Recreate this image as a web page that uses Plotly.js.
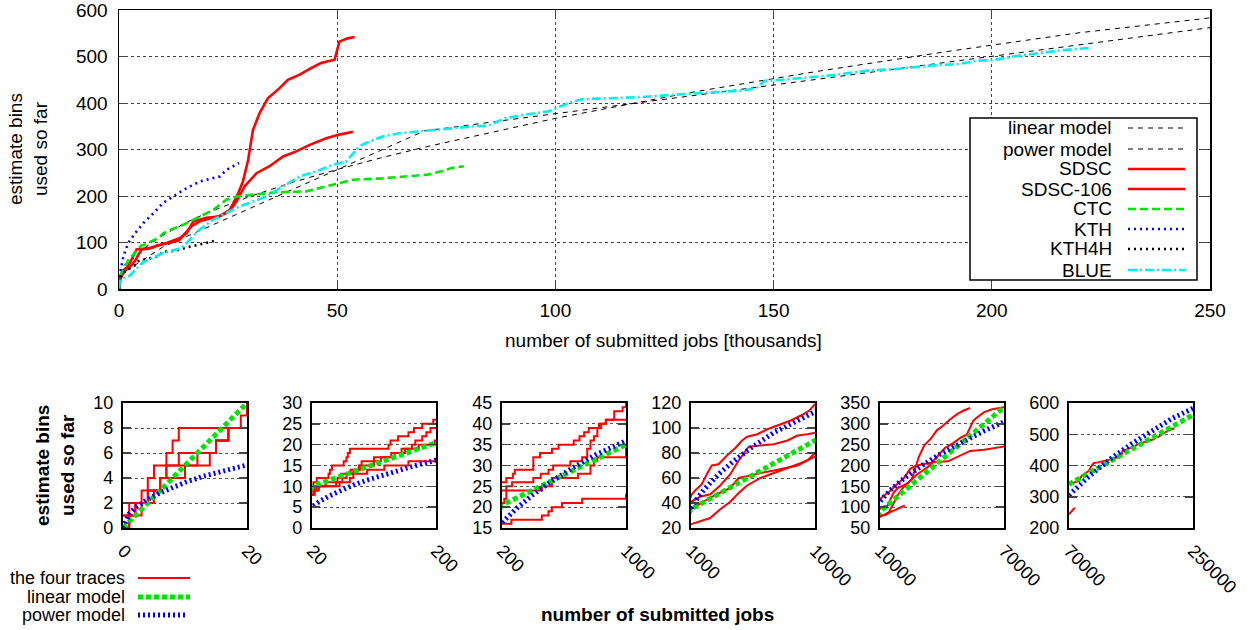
<!DOCTYPE html>
<html>
<head>
<meta charset="utf-8">
<script src="https://cdn.plot.ly/plotly-3.0.1.min.js"></script>
<style>
  html, body { margin: 0; padding: 0; background: #fff; }
  #chart { width: 1250px; height: 630px; }
</style>
</head>
<body>
<div id="chart"></div>
<script>
// ---------- model curves: number of jobs -> estimated bins ----------
const linearJobs = [0, 20, 200, 1000, 10000, 70000, 250000];
const linearBins = [0, 10, 20.5, 35, 90, 340, 562];

const powerJobs = [0, 1, 2, 4, 6, 8, 10, 13, 16, 20, 30, 45, 60, 80, 100, 130, 160, 200, 300, 400, 500, 650, 800,
  1000, 1500, 2000, 3000, 4000, 5500, 7000, 8500, 10000, 15000, 20000, 30000, 40000, 50000, 60000, 70000,
  100000, 130000, 160000, 190000, 220000, 250000];
const powerBins = [0, 1.15, 1.63, 2.3, 2.82, 3.25, 3.64, 4.15, 4.6, 5.14, 6.3, 7.7, 8.9, 10.3, 11.5, 13.1, 14.5, 16.3, 19.9, 23, 25.7, 29.3, 32.5,
  36.4, 44.5, 51.4, 63, 72.7, 85.3, 96.2, 106, 115, 141, 163, 199, 230, 257, 282, 305,
  367, 421, 468, 511, 551, 583];

// ---------- workload traces (jobs, bins used so far) ----------
const sdscJobs = [0, 400, 1000, 2500, 4000, 5000, 7000, 10900, 14000, 15500, 17000, 20000, 23000, 25400, 27000, 28400,
  29600, 30700, 32200, 34100, 36800, 38700, 41400, 44000, 46300, 49400, 50500, 52400, 54000];
const sdscBins = [0, 25, 34, 56, 85, 86, 88, 99, 110, 120, 145, 153, 156, 170, 199, 231,
  278, 342, 378, 410, 432, 450, 461, 475, 486, 493, 532, 539, 542];

const sdsc106Jobs = [0, 1, 3, 4, 5, 7, 8, 9,
  22, 27, 60, 64, 70, 76, 88, 92, 110, 140, 155, 165, 170, 180, 186, 192,
  228, 265, 402, 450, 500, 530, 641, 717, 750, 771, 793, 815, 840, 870,
  1000, 1660, 2390, 3120, 3850, 4460, 5190, 6040, 7020, 8000, 8730, 9460, 10000,
  13700, 16600, 18600, 21600, 23400, 25400, 27000, 28800, 31500, 34500, 37600, 40600, 43700, 47500, 50500, 53600];
const sdsc106Bins = [1, 2, 3, 4, 5, 6, 7, 8,
  9, 10, 11, 12, 13, 14, 15, 16, 17, 18, 19, 20, 21, 22, 23, 24,
  25, 26, 27, 28, 29, 30, 31, 32, 34, 36, 37, 39, 40, 41,
  41, 45, 47, 54, 63, 74, 85, 86, 87, 90, 94, 95, 96,
  104, 135, 146, 153, 158, 167, 190, 221, 249, 264, 285, 296, 310, 324, 332, 338];

const ctcJobs = [0, 1, 2, 4, 6, 7, 9, 15, 17, 19, 20,
  22, 27, 44, 46, 49, 66, 70, 72, 75, 131, 134, 145, 160, 168, 180, 196,
  228, 270, 283, 402, 445, 522, 565, 663, 700, 730, 760, 826, 870, 924, 978,
  1000, 1293, 1780, 2146, 2512, 3000, 3610, 4220, 4707, 5073, 5805, 6537, 7512, 8244, 8976, 9585, 10000,
  11700, 14700, 18500, 21600, 24600, 27000, 30700, 36000, 42900, 46000, 49000, 53600, 60400, 66500, 70800, 73900, 76200, 79000];
const ctcBins = [0, 1, 2, 3, 4, 5, 6, 7, 8, 9, 10,
  11, 12, 13, 14, 15, 16, 17, 18, 19, 20, 21, 22, 23, 24, 25, 26,
  27, 28, 29, 32, 33, 34, 35, 36, 37, 38, 39, 40, 41, 43, 44,
  46, 50, 55, 63, 70, 71, 78, 84, 90, 93, 95, 99, 103, 106, 110, 114, 119,
  127, 138, 156, 170, 192, 199, 203, 208, 210, 217, 224, 235, 238, 242, 246, 253, 260, 264];

const kthJobs = [0, 400, 1000, 2100, 3700, 5600, 7900, 10100, 12400, 15500, 18500, 21600, 23100, 24600, 26900, 27500];
const kthBins = [0, 42, 70, 99, 120, 142, 163, 185, 199, 217, 231, 239, 242, 256, 269, 271];

const kth4hJobs = [0, 1, 3, 5, 6, 7, 12, 15, 17,
  24, 40, 57, 62, 80, 90, 110, 120, 135, 150, 175, 198,
  215, 228, 457, 522, 690, 771, 793, 815,
  1000, 1900, 2880, 3850, 4460, 5320, 6040, 7020, 7990, 8730, 9460, 10000,
  12900, 15300, 17800, 21500, 22000];
const kth4hBins = [0, 1, 2, 3, 4, 5, 6, 7, 8,
  10, 11, 12, 13, 14, 15, 16, 17, 18, 19, 20, 21,
  22, 24, 25, 27, 28, 30, 31, 32,
  35, 41, 47, 52, 60, 62, 64, 66, 68, 70, 74, 80,
  82, 89, 94, 102, 104];

const blueJobs = [0, 2, 4, 6, 10, 14, 15, 17,
  23, 30, 55, 75, 80, 100, 125, 160,
  261, 457, 500, 522, 587, 717,
  1000, 1660, 2390, 3120, 3850, 4460, 5070, 6040, 7020, 8000, 9000, 10000,
  11700, 14300, 16200, 18500, 21600, 24600, 27700, 30700, 33800, 37600, 41400, 45200, 49000, 52000, 55100,
  56600, 60400, 64300, 68800, 75400, 81500, 84600, 88400, 93000, 98400, 103000, 106000, 112000, 120000, 127600,
  135000, 143000, 146000, 148000, 152000, 158000, 163700, 171000, 179000, 186600, 192700, 196600, 200000, 205700,
  209500, 215600, 222900];
const blueBins = [1, 2, 3, 4, 5, 6, 7, 8,
  9, 10, 11, 12, 13, 14, 15, 16,
  17, 18, 19, 20, 21, 22,
  23, 25, 28, 35, 41, 48, 54, 60, 64, 68, 72, 77,
  81, 88, 106, 128, 149, 163, 178, 188, 199, 221, 242, 253, 267, 274, 307,
  314, 328, 335, 339, 344, 350, 351, 367, 375, 382, 400, 408, 410, 413, 418,
  423, 427, 432, 448, 450, 455, 460, 469, 474, 481, 484, 491, 492, 501,
  506, 513, 519];

// ---------- small panels: job ranges and bin ranges ----------
const panelJobRanges = [[0, 20], [20, 200], [200, 1000], [1000, 10000], [10000, 70000], [70000, 250000]];
const panelBinRanges = [[0, 10], [0, 30], [15, 45], [20, 120], [50, 350], [200, 600]];
const panelBinSteps = [2, 5, 5, 20, 50, 100];

// ---------- styling ----------
const FONT = '"Liberation Sans", Arial, Helvetica, sans-serif';
const RED = '#ff0000', GREEN = '#00e400', BLUE_C = '#0000ff', CYAN = '#00f0f0';
const W = 1250, H = 630;
const px = x => x / W;
const py = y => 1 - y / H;

const toK = a => a.map(v => v / 1000);

const traces = [];

// main panel
const mainSeries = [
  { x: linearJobs, y: linearBins, color: '#000', width: 1, dash: '5px,5px' },
  { x: powerJobs, y: powerBins, color: '#000', width: 1, dash: '5px,5px' },
  { x: sdscJobs, y: sdscBins, color: RED, width: 2.6, dash: 'solid' },
  { x: sdsc106Jobs, y: sdsc106Bins, color: RED, width: 2.6, dash: 'solid' },
  { x: ctcJobs, y: ctcBins, color: GREEN, width: 2.6, dash: '8px,4px' },
  { x: kthJobs, y: kthBins, color: BLUE_C, width: 2.6, dash: '2px,4px' },
  { x: kth4hJobs, y: kth4hBins, color: '#000', width: 2.6, dash: '2px,4px' },
  { x: blueJobs, y: blueBins, color: CYAN, width: 2.6, dash: '9px,3px,2px,3px' }
];
mainSeries.forEach(s => traces.push({
  type: 'scatter', mode: 'lines', x: toK(s.x), y: s.y, xaxis: 'x', yaxis: 'y',
  line: { color: s.color, width: s.width, dash: s.dash }, hoverinfo: 'skip', showlegend: false
}));

// picks the points of a series that fall in a range, plus one neighbour on each side
function pick(xs, ys, lo, hi) {
  const ox = [], oy = [];
  for (let i = 0; i < xs.length; i++) {
    const inside = xs[i] >= lo && xs[i] <= hi;
    const before = xs[i] < lo && i + 1 < xs.length && xs[i + 1] >= lo;
    const after = xs[i] > hi && i > 0 && xs[i - 1] <= hi;
    if (inside || before || after) { ox.push(xs[i]); oy.push(ys[i]); }
  }
  return { x: ox, y: oy };
}

const fourTraces = [
  [sdsc106Jobs, sdsc106Bins], [ctcJobs, ctcBins], [kth4hJobs, kth4hBins], [blueJobs, blueBins]
];

panelJobRanges.forEach((r, i) => {
  const xa = 'x' + (i + 2), ya = 'y' + (i + 2);
  const shape = i < 3 ? 'hv' : 'linear';
  fourTraces.forEach(([xs, ys]) => {
    const p = pick(xs, ys, r[0], r[1]);
    traces.push({ type: 'scatter', mode: 'lines', x: p.x, y: p.y, xaxis: xa, yaxis: ya,
      line: { color: RED, width: 2, shape: shape }, hoverinfo: 'skip', showlegend: false });
  });
  const lp = pick(linearJobs, linearBins, r[0], r[1]);
  traces.push({ type: 'scatter', mode: 'lines', x: lp.x, y: lp.y, xaxis: xa, yaxis: ya,
    line: { color: GREEN, width: 5, dash: '5px,3px' }, hoverinfo: 'skip', showlegend: false });
  const pp = pick(powerJobs, powerBins, r[0], r[1]);
  traces.push({ type: 'scatter', mode: 'lines', x: pp.x, y: pp.y, xaxis: xa, yaxis: ya,
    line: { color: BLUE_C, width: 5, dash: '2px,3px' }, hoverinfo: 'skip', showlegend: false });
});

// ---------- layout ----------
const layout = {
  width: W, height: H,
  margin: { l: 0, r: 0, t: 0, b: 0 },
  paper_bgcolor: '#fff', plot_bgcolor: '#fff',
  font: { family: FONT, color: '#000', size: 18 },
  showlegend: false,
  xaxis: {
    domain: [px(119), px(1210)], anchor: 'y', range: [0, 250], tickvals: [0, 50, 100, 150, 200, 250],
    ticks: 'inside', ticklen: 8, tickwidth: 1, showline: true, mirror: 'ticks', linewidth: 1.5, linecolor: '#000',
    showgrid: true, gridcolor: '#444', griddash: 'dot', gridwidth: 1, zeroline: false,
    tickfont: { size: 19 }, ticklabelstandoff: 4, ticklabeloverflow: 'allow'
  },
  yaxis: {
    domain: [py(289), py(10)], anchor: 'x', range: [0, 600], tickvals: [0, 100, 200, 300, 400, 500, 600],
    ticks: 'inside', ticklen: 8, tickwidth: 1, showline: true, mirror: 'ticks', linewidth: 1.5, linecolor: '#000',
    showgrid: true, gridcolor: '#444', griddash: 'dot', gridwidth: 1, zeroline: false,
    tickfont: { size: 19 }, ticklabelstandoff: 6, ticklabeloverflow: 'allow'
  },
  shapes: [],
  annotations: []
};

const panelLefts = [123, 312, 502, 691, 880, 1069];
panelJobRanges.forEach((r, i) => {
  const n = i + 2;
  const tv = [];
  for (let v = panelBinRanges[i][0]; v <= panelBinRanges[i][1]; v += panelBinSteps[i]) tv.push(v);
  layout['xaxis' + n] = {
    domain: [px(panelLefts[i]), px(panelLefts[i] + 124)], anchor: 'y' + n, range: r, tickvals: r,
    ticktext: r.map(String), tickangle: 45, ticks: '', showline: true, mirror: true, linewidth: 2.2,
    linecolor: '#000', showgrid: false, zeroline: false, tickfont: { size: 18 }, ticklabelstandoff: 3,
    ticklabeloverflow: 'allow'
  };
  layout['yaxis' + n] = {
    domain: [py(528), py(403)], anchor: 'x' + n, range: panelBinRanges[i], tickvals: tv,
    ticks: 'inside', ticklen: 8, tickwidth: 1.5, showline: true, mirror: 'ticks', linewidth: 2.2,
    linecolor: '#000', showgrid: true, gridcolor: '#555', griddash: 'dot', gridwidth: 1, zeroline: false,
    tickfont: { size: 18 }, ticklabelstandoff: 4, ticklabeloverflow: 'allow'
  };
});

// axis titles
layout.annotations.push(
  { xref: 'paper', yref: 'paper', x: px(28), y: py(149), text: 'estimate bins<br>used so far', textangle: -90,
    showarrow: false, font: { size: 19 }, xanchor: 'center', yanchor: 'middle' },
  { xref: 'paper', yref: 'paper', x: px(663), y: py(340), text: 'number of submitted jobs [thousands]',
    showarrow: false, font: { size: 19 }, xanchor: 'center', yanchor: 'middle' },
  { xref: 'paper', yref: 'paper', x: px(55), y: py(466), text: '<b>estimate bins<br>used so far</b>', textangle: -90,
    showarrow: false, font: { size: 19 }, xanchor: 'center', yanchor: 'middle' },
  { xref: 'paper', yref: 'paper', x: px(657), y: py(614), text: '<b>number of submitted jobs</b>',
    showarrow: false, font: { size: 19 }, xanchor: 'center', yanchor: 'middle' }
);

// key of the main panel
layout.shapes.push({ type: 'rect', xref: 'paper', yref: 'paper', x0: px(970), x1: px(1197), y0: py(280), y1: py(118),
  line: { color: '#000', width: 1.5 }, fillcolor: '#fff', layer: 'above' });
const mainKey = [
  ['linear model', '#000', 1, '5px,5px'],
  ['power model', '#000', 1, '5px,5px'],
  ['SDSC', RED, 2.6, 'solid'],
  ['SDSC-106', RED, 2.6, 'solid'],
  ['CTC', GREEN, 2.6, '8px,4px'],
  ['KTH', BLUE_C, 2.6, '2px,4px'],
  ['KTH4H', '#000', 2.6, '2px,4px'],
  ['BLUE', CYAN, 2.6, '9px,3px,2px,3px']
];
const keyRows = [128, 149, 169, 189, 209, 229, 249, 270];
mainKey.forEach((k, i) => {
  layout.annotations.push({ xref: 'paper', yref: 'paper', x: px(1114), y: py(keyRows[i]), text: k[0],
    showarrow: false, xanchor: 'right', yanchor: 'middle', font: { size: 19 } });
  layout.shapes.push({ type: 'line', xref: 'paper', yref: 'paper', x0: px(1128), x1: px(1185),
    y0: py(keyRows[i]), y1: py(keyRows[i]), line: { color: k[1], width: k[2], dash: k[3] }, layer: 'above' });
});

// key of the small panels
const smallKey = [
  ['the four traces', RED, 2, 'solid', 190],
  ['linear model', GREEN, 5, '5px,3px', 190],
  ['power model', BLUE_C, 5, '2px,3px', 187]
];
const smallRows = [578, 597, 615];
smallKey.forEach((k, i) => {
  layout.annotations.push({ xref: 'paper', yref: 'paper', x: px(127), y: py(smallRows[i]), text: k[0],
    showarrow: false, xanchor: 'right', yanchor: 'middle', font: { size: 18 } });
  layout.shapes.push({ type: 'line', xref: 'paper', yref: 'paper', x0: px(138), x1: px(k[4]),
    y0: py(smallRows[i]), y1: py(smallRows[i]), line: { color: k[1], width: k[2], dash: k[3] } });
});

Plotly.newPlot('chart', traces, layout, { staticPlot: true, displayModeBar: false });
</script>
</body>
</html>
